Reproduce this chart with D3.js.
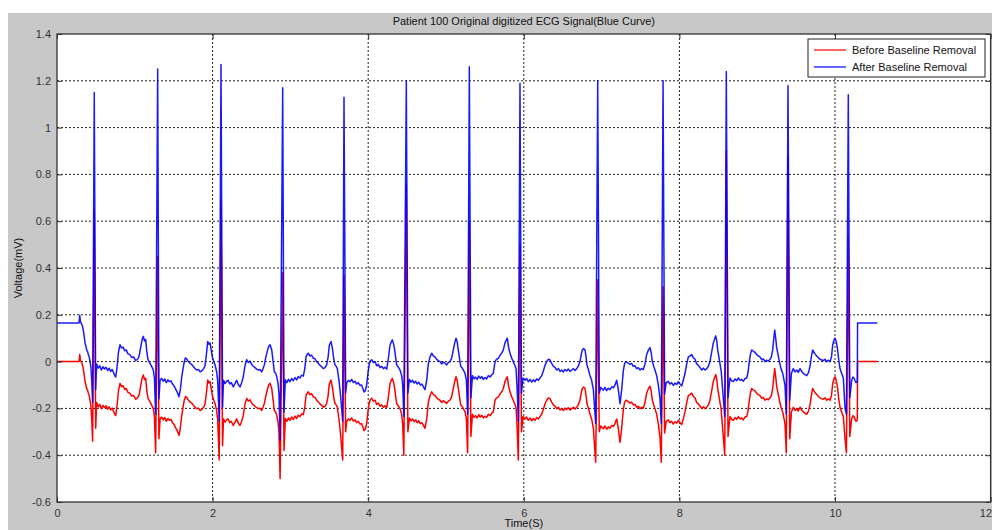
<!DOCTYPE html>
<html>
<head>
<meta charset="utf-8">
<script src="https://cdn.jsdelivr.net/npm/d3@7"></script>
<style>
  body { margin: 0; background: #fff; }
  svg { display: block; }
  text { font-family: Arial, "Liberation Sans", sans-serif; }
</style>
</head>
<body>
<svg id="chart" width="992" height="530"></svg>
<script>
// ECG record 100, one line per beat
const time = [
  0, 0.283, 0.292, 0.302, 0.317, 0.328, 0.338, 0.349, 0.360, 0.370, 0.381, 0.392, 0.403, 0.414, 0.424, 0.436, 0.446, 0.458, 0.479, 0.497,
  0.510, 0.530, 0.550, 0.570, 0.590, 0.610, 0.630, 0.650, 0.670, 0.690, 0.710, 0.730, 0.754, 0.770, 0.790, 0.810, 0.830, 0.850, 0.870, 0.890, 0.910, 0.935, 0.960, 0.985, 1.010, 1.035, 1.055, 1.075, 1.095, 1.110, 1.125, 1.140, 1.155, 1.170, 1.190, 1.210, 1.238, 1.252, 1.268, 1.294, 1.310,
  1.325, 1.345, 1.365, 1.385, 1.405, 1.425, 1.445, 1.465, 1.485, 1.505, 1.525, 1.545, 1.568, 1.585, 1.602, 1.620, 1.636, 1.652, 1.667, 1.685, 1.705, 1.731, 1.755, 1.775, 1.796, 1.820, 1.840, 1.860, 1.885, 1.902, 1.920, 1.937, 1.952, 1.967, 1.982, 1.996, 2.015, 2.031, 2.050, 2.065, 2.085, 2.108, 2.128,
  2.140, 2.160, 2.180, 2.200, 2.220, 2.240, 2.266, 2.288, 2.309, 2.330, 2.352, 2.374, 2.395, 2.415, 2.438, 2.460, 2.481, 2.502, 2.524, 2.545, 2.566, 2.588, 2.610, 2.631, 2.648, 2.665, 2.685, 2.708, 2.722, 2.738, 2.760, 2.778, 2.793, 2.810, 2.824, 2.840, 2.853, 2.868, 2.901, 2.918,
  2.935, 2.955, 2.975, 2.995, 3.015, 3.037, 3.059, 3.080, 3.101, 3.123, 3.145, 3.166, 3.185, 3.201, 3.215, 3.230, 3.250, 3.272, 3.295, 3.316, 3.337, 3.359, 3.380, 3.402, 3.423, 3.445, 3.466, 3.485, 3.500, 3.522, 3.543, 3.558, 3.573, 3.588, 3.603, 3.628, 3.646, 3.672, 3.689, 3.710,
  3.724, 3.745, 3.766, 3.788, 3.810, 3.830, 3.852, 3.873, 3.895, 3.915, 3.932, 3.946, 3.963, 3.980, 3.997, 4.014, 4.030, 4.045, 4.066, 4.088, 4.109, 4.130, 4.152, 4.173, 4.195, 4.216, 4.238, 4.258, 4.280, 4.296, 4.310, 4.323, 4.336, 4.352, 4.366, 4.388, 4.409, 4.430, 4.443, 4.458, 4.490, 4.510,
  4.530, 4.550, 4.570, 4.590, 4.610, 4.630, 4.650, 4.670, 4.690, 4.710, 4.730, 4.752, 4.773, 4.795, 4.816, 4.838, 4.859, 4.880, 4.901, 4.923, 4.945, 4.966, 4.987, 5.008, 5.030, 5.051, 5.072, 5.094, 5.112, 5.129, 5.144, 5.158, 5.174, 5.189, 5.206, 5.223, 5.245, 5.262, 5.278, 5.300, 5.320,
  5.340, 5.360, 5.380, 5.400, 5.420, 5.440, 5.460, 5.480, 5.501, 5.522, 5.544, 5.566, 5.588, 5.608, 5.630, 5.650, 5.672, 5.694, 5.716, 5.737, 5.758, 5.774, 5.788, 5.805, 5.823, 5.845, 5.865, 5.884, 5.900, 5.912, 5.930, 5.951, 5.970,
  5.990, 6.015, 6.035, 6.058, 6.080, 6.101, 6.122, 6.144, 6.165, 6.187, 6.208, 6.230, 6.251, 6.272, 6.294, 6.316, 6.337, 6.358, 6.380, 6.402, 6.423, 6.445, 6.466, 6.487, 6.508, 6.530, 6.551, 6.572, 6.594, 6.616, 6.637, 6.658, 6.680, 6.700, 6.722, 6.738, 6.752, 6.770, 6.787, 6.800, 6.812, 6.832, 6.851, 6.872, 6.894, 6.924, 6.950, 6.970,
  6.988, 7.022, 7.043, 7.065, 7.086, 7.108, 7.130, 7.151, 7.172, 7.194, 7.215, 7.237, 7.258, 7.279, 7.296, 7.314, 7.340, 7.365, 7.386, 7.408, 7.429, 7.450, 7.472, 7.494, 7.515, 7.536, 7.558, 7.579, 7.600, 7.622, 7.637, 7.652, 7.670, 7.686, 7.708, 7.729, 7.751, 7.767, 7.790, 7.810,
  7.830, 7.857, 7.878, 7.900, 7.922, 7.943, 7.965, 7.986, 8.008, 8.029, 8.050, 8.072, 8.094, 8.115, 8.137, 8.158, 8.180, 8.201, 8.222, 8.244, 8.265, 8.287, 8.308, 8.330, 8.351, 8.372, 8.393, 8.415, 8.436, 8.452, 8.467, 8.480, 8.492, 8.508, 8.522, 8.537, 8.551, 8.583, 8.603, 8.625,
  8.650, 8.672, 8.693, 8.715, 8.736, 8.757, 8.779, 8.800, 8.822, 8.843, 8.865, 8.880, 8.895, 8.912, 8.929, 8.950, 8.972, 8.993, 9.015, 9.036, 9.058, 9.079, 9.100, 9.122, 9.143, 9.165, 9.182, 9.199, 9.212, 9.225, 9.238, 9.250, 9.268, 9.285, 9.306, 9.328, 9.357, 9.374, 9.396, 9.418,
  9.440, 9.464, 9.486, 9.507, 9.528, 9.550, 9.572, 9.593, 9.615, 9.636, 9.658, 9.679, 9.696, 9.713, 9.740, 9.765, 9.787, 9.808, 9.829, 9.850, 9.872, 9.893, 9.915, 9.936, 9.955, 9.970, 9.985, 10.000, 10.015, 10.030, 10.047, 10.064, 10.085, 10.107, 10.129, 10.147, 10.171, 10.190, 10.214, 10.230, 10.244, 10.258, 10.270, 10.287, 10.290, 10.544
];

// red curve (mV)
const before = [
  0, 0, 0.030, 0.005, -0.005, -0.015, -0.031, -0.055, -0.085, -0.097, -0.115, -0.121, -0.135, -0.145, -0.163, -0.190, -0.245, -0.340, 0.650, -0.285,
  -0.175, -0.193, -0.183, -0.201, -0.187, -0.197, -0.189, -0.203, -0.193, -0.207, -0.199, -0.215, -0.231, -0.195, -0.125, -0.093, -0.107, -0.103, -0.119, -0.115, -0.131, -0.135, -0.147, -0.145, -0.161, -0.155, -0.143, -0.105, -0.070, -0.057, -0.077, -0.071, -0.125, -0.157, -0.169, -0.181, -0.201, -0.235, -0.390, 0.450, -0.330,
  -0.245, -0.237, -0.249, -0.239, -0.255, -0.243, -0.251, -0.247, -0.261, -0.269, -0.283, -0.295, -0.315, -0.285, -0.235, -0.195, -0.165, -0.149, -0.153, -0.163, -0.171, -0.177, -0.187, -0.195, -0.201, -0.199, -0.209, -0.205, -0.195, -0.183, -0.135, -0.079, -0.091, -0.085, -0.115, -0.145, -0.165, -0.179, -0.205, -0.245, -0.420, 0.690, -0.360,
  -0.245, -0.259, -0.249, -0.245, -0.261, -0.255, -0.273, -0.259, -0.245, -0.263, -0.273, -0.255, -0.229, -0.185, -0.157, -0.169, -0.163, -0.177, -0.185, -0.191, -0.197, -0.201, -0.199, -0.209, -0.195, -0.179, -0.145, -0.115, -0.099, -0.093, -0.115, -0.165, -0.208, -0.215, -0.229, -0.255, -0.301, -0.500, 0.380, -0.380,
  -0.243, -0.255, -0.241, -0.251, -0.237, -0.247, -0.233, -0.243, -0.229, -0.235, -0.223, -0.227, -0.195, -0.145, -0.135, -0.129, -0.141, -0.137, -0.151, -0.153, -0.165, -0.172, -0.181, -0.187, -0.195, -0.191, -0.179, -0.145, -0.095, -0.079, -0.115, -0.155, -0.179, -0.185, -0.195, -0.255, -0.315, -0.420, 0.370, -0.300,
  -0.255, -0.245, -0.251, -0.241, -0.255, -0.249, -0.261, -0.255, -0.267, -0.265, -0.281, -0.295, -0.289, -0.265, -0.215, -0.175, -0.161, -0.157, -0.169, -0.165, -0.183, -0.177, -0.191, -0.185, -0.195, -0.189, -0.197, -0.155, -0.095, -0.081, -0.072, -0.085, -0.105, -0.145, -0.179, -0.189, -0.201, -0.225, -0.265, -0.400, 0.760, -0.300,
  -0.241, -0.253, -0.245, -0.257, -0.249, -0.261, -0.253, -0.265, -0.261, -0.273, -0.285, -0.245, -0.175, -0.145, -0.129, -0.141, -0.145, -0.155, -0.161, -0.165, -0.175, -0.167, -0.172, -0.179, -0.169, -0.165, -0.151, -0.115, -0.085, -0.065, -0.081, -0.115, -0.151, -0.185, -0.191, -0.201, -0.215, -0.245, -0.390, 0.600, -0.320,
  -0.225, -0.239, -0.231, -0.241, -0.227, -0.237, -0.229, -0.241, -0.233, -0.239, -0.225, -0.231, -0.221, -0.215, -0.165, -0.155, -0.151, -0.139, -0.129, -0.115, -0.085, -0.073, -0.065, -0.105, -0.129, -0.151, -0.165, -0.181, -0.195, -0.265, -0.420, 0.500, -0.300,
  -0.235, -0.245, -0.237, -0.251, -0.241, -0.253, -0.243, -0.251, -0.239, -0.245, -0.235, -0.225, -0.205, -0.181, -0.165, -0.155, -0.158, -0.173, -0.185, -0.191, -0.201, -0.195, -0.207, -0.201, -0.209, -0.199, -0.205, -0.197, -0.207, -0.201, -0.195, -0.203, -0.195, -0.185, -0.165, -0.135, -0.115, -0.109, -0.115, -0.145, -0.179, -0.201, -0.225, -0.245, -0.285, -0.430, 0.350, -0.300,
  -0.275, -0.287, -0.275, -0.289, -0.279, -0.285, -0.273, -0.277, -0.265, -0.245, -0.285, -0.345, -0.285, -0.205, -0.173, -0.165, -0.171, -0.177, -0.173, -0.185, -0.183, -0.195, -0.191, -0.201, -0.195, -0.199, -0.175, -0.135, -0.117, -0.105, -0.125, -0.165, -0.185, -0.201, -0.225, -0.265, -0.325, -0.430, 0.320, -0.305,
  -0.255, -0.249, -0.261, -0.255, -0.267, -0.257, -0.263, -0.251, -0.261, -0.269, -0.245, -0.215, -0.175, -0.145, -0.141, -0.135, -0.149, -0.155, -0.175, -0.181, -0.191, -0.201, -0.193, -0.201, -0.195, -0.185, -0.165, -0.125, -0.085, -0.069, -0.055, -0.075, -0.115, -0.145, -0.175, -0.205, -0.265, -0.400, 0.900, -0.320,
  -0.235, -0.247, -0.251, -0.239, -0.247, -0.235, -0.245, -0.241, -0.249, -0.237, -0.235, -0.215, -0.175, -0.135, -0.115, -0.121, -0.125, -0.135, -0.141, -0.145, -0.157, -0.153, -0.165, -0.159, -0.163, -0.155, -0.145, -0.115, -0.070, -0.030, -0.065, -0.105, -0.135, -0.165, -0.195, -0.215, -0.265, -0.390, 0.880, -0.330,
  -0.215, -0.195, -0.209, -0.201, -0.211, -0.195, -0.207, -0.215, -0.221, -0.225, -0.213, -0.185, -0.145, -0.115, -0.131, -0.141, -0.149, -0.155, -0.158, -0.161, -0.155, -0.165, -0.159, -0.165, -0.145, -0.095, -0.075, -0.065, -0.079, -0.105, -0.155, -0.195, -0.215, -0.235, -0.330, -0.390, 0.530, -0.320, -0.245, -0.231, -0.235, -0.247, -0.255, -0.251, 0, 0
];

// blue curve (mV)
const after = [
  0.165, 0.165, 0.198, 0.170, 0.160, 0.150, 0.134, 0.110, 0.080, 0.068, 0.050, 0.044, 0.030, 0.020, 0.002, -0.025, -0.080, -0.175, 1.150, -0.120,
  -0.010, -0.028, -0.018, -0.036, -0.022, -0.032, -0.024, -0.038, -0.028, -0.042, -0.034, -0.050, -0.066, -0.030, 0.040, 0.072, 0.058, 0.062, 0.046, 0.050, 0.034, 0.030, 0.018, 0.020, 0.004, 0.010, 0.022, 0.060, 0.095, 0.108, 0.088, 0.094, 0.040, 0.008, -0.004, -0.016, -0.036, -0.070, -0.225, 1.250, -0.160,
  -0.080, -0.072, -0.084, -0.074, -0.090, -0.078, -0.086, -0.082, -0.096, -0.104, -0.118, -0.130, -0.150, -0.120, -0.070, -0.030, 0.000, 0.016, 0.012, 0.002, -0.006, -0.012, -0.022, -0.030, -0.036, -0.034, -0.044, -0.040, -0.030, -0.018, 0.030, 0.086, 0.074, 0.080, 0.050, 0.020, 0.000, -0.014, -0.040, -0.080, -0.255, 1.270, -0.195,
  -0.080, -0.094, -0.084, -0.080, -0.096, -0.090, -0.108, -0.094, -0.080, -0.098, -0.108, -0.090, -0.064, -0.020, 0.008, -0.004, 0.002, -0.012, -0.020, -0.026, -0.032, -0.036, -0.034, -0.044, -0.030, -0.014, 0.020, 0.050, 0.066, 0.072, 0.050, 0.000, -0.043, -0.050, -0.064, -0.090, -0.136, -0.335, 1.170, -0.215,
  -0.078, -0.090, -0.076, -0.086, -0.072, -0.082, -0.068, -0.078, -0.064, -0.070, -0.058, -0.062, -0.030, 0.020, 0.030, 0.036, 0.024, 0.028, 0.014, 0.012, 0.000, -0.007, -0.016, -0.022, -0.030, -0.026, -0.014, 0.020, 0.070, 0.086, 0.050, 0.010, -0.014, -0.020, -0.030, -0.090, -0.150, -0.255, 1.130, -0.135,
  -0.090, -0.080, -0.086, -0.076, -0.090, -0.084, -0.096, -0.090, -0.102, -0.100, -0.116, -0.130, -0.124, -0.100, -0.050, -0.010, 0.004, 0.008, -0.004, 0.000, -0.018, -0.012, -0.026, -0.020, -0.030, -0.024, -0.032, 0.010, 0.070, 0.084, 0.093, 0.080, 0.060, 0.020, -0.014, -0.024, -0.036, -0.060, -0.100, -0.235, 1.200, -0.135,
  -0.076, -0.088, -0.080, -0.092, -0.084, -0.096, -0.088, -0.100, -0.096, -0.108, -0.120, -0.080, -0.010, 0.020, 0.036, 0.024, 0.020, 0.010, 0.004, 0.000, -0.010, -0.002, -0.007, -0.014, -0.004, 0.000, 0.014, 0.050, 0.080, 0.100, 0.084, 0.050, 0.014, -0.020, -0.026, -0.036, -0.050, -0.080, -0.225, 1.260, -0.155,
  -0.060, -0.074, -0.066, -0.076, -0.062, -0.072, -0.064, -0.076, -0.068, -0.074, -0.060, -0.066, -0.056, -0.050, 0.000, 0.010, 0.014, 0.026, 0.036, 0.050, 0.080, 0.092, 0.100, 0.060, 0.036, 0.014, 0.000, -0.016, -0.030, -0.100, -0.255, 1.190, -0.135,
  -0.070, -0.080, -0.072, -0.086, -0.076, -0.088, -0.078, -0.086, -0.074, -0.080, -0.070, -0.060, -0.040, -0.016, 0.000, 0.010, 0.007, -0.008, -0.020, -0.026, -0.036, -0.030, -0.042, -0.036, -0.044, -0.034, -0.040, -0.032, -0.042, -0.036, -0.030, -0.038, -0.030, -0.020, 0.000, 0.030, 0.050, 0.056, 0.050, 0.020, -0.014, -0.036, -0.060, -0.080, -0.120, -0.265, 1.200, -0.135,
  -0.110, -0.122, -0.110, -0.124, -0.114, -0.120, -0.108, -0.112, -0.100, -0.080, -0.120, -0.180, -0.120, -0.040, -0.008, 0.000, -0.006, -0.012, -0.008, -0.020, -0.018, -0.030, -0.026, -0.036, -0.030, -0.034, -0.010, 0.030, 0.048, 0.060, 0.040, 0.000, -0.020, -0.036, -0.060, -0.100, -0.160, -0.265, 1.200, -0.140,
  -0.090, -0.084, -0.096, -0.090, -0.102, -0.092, -0.098, -0.086, -0.096, -0.104, -0.080, -0.050, -0.010, 0.020, 0.024, 0.030, 0.016, 0.010, -0.010, -0.016, -0.026, -0.036, -0.028, -0.036, -0.030, -0.020, 0.000, 0.040, 0.080, 0.096, 0.110, 0.090, 0.050, 0.020, -0.010, -0.040, -0.100, -0.235, 1.240, -0.155,
  -0.070, -0.082, -0.086, -0.074, -0.082, -0.070, -0.080, -0.076, -0.084, -0.072, -0.070, -0.050, -0.010, 0.030, 0.050, 0.044, 0.040, 0.030, 0.024, 0.020, 0.008, 0.012, 0.000, 0.006, 0.002, 0.010, 0.020, 0.050, 0.095, 0.135, 0.100, 0.060, 0.030, 0.000, -0.030, -0.050, -0.100, -0.225, 1.180, -0.165,
  -0.050, -0.030, -0.044, -0.036, -0.046, -0.030, -0.042, -0.050, -0.056, -0.060, -0.048, -0.020, 0.020, 0.050, 0.034, 0.024, 0.016, 0.010, 0.007, 0.004, 0.010, 0.000, 0.006, 0.000, 0.020, 0.070, 0.090, 0.100, 0.086, 0.060, 0.010, -0.030, -0.050, -0.070, -0.200, -0.225, 1.140, -0.155, -0.080, -0.066, -0.070, -0.082, -0.090, -0.086, 0.165, 0.165
];

const xTicks = [0, 2, 4, 6, 8, 10, 12];
const yTicks = [-0.6, -0.4, -0.2, 0, 0.2, 0.4, 0.6, 0.8, 1, 1.2, 1.4];
const yTickLabels = ['-0.6', '-0.4', '-0.2', '0', '0.2', '0.4', '0.6', '0.8', '1', '1.2', '1.4'];
const seriesNames = ['Before Baseline Removal', 'After Baseline Removal'];

const colors = ['#ff0000', '#0000ff'];

if (time.length !== before.length || time.length !== after.length) {
  throw new Error('length mismatch ' + time.length + ' ' + before.length + ' ' + after.length);
}

let svg = d3.select('#chart');

// matlab figure background
svg.append('rect')
    .attr('x', 8).attr('y', 13)
    .attr('width', 984).attr('height', 517)
    .attr('fill', '#c8c8c8');

let margin = {left: 57, top: 34, right: 1.4, bottom: 28};
let width = 992 - margin.left - margin.right;
let height = 530 - margin.top - margin.bottom;

let g = svg.append('g').attr('transform', `translate(${margin.left},${margin.top})`);

let x = d3.scaleLinear().domain([0, 12]).range([0, width]);
let y = d3.scaleLinear().domain([-0.6, 1.4]).range([height, 0]);

g.append('rect')
    .attr('width', width).attr('height', height)
    .attr('fill', '#fff');

// dotted grid
let grid = g.append('g')
    .attr('stroke', '#222')
    .attr('stroke-width', 1)
    .attr('stroke-dasharray', '2,2');
grid.selectAll('line.gx')
    .data(xTicks.slice(1, -1))
    .join('line')
    .attr('class', 'gx')
    .attr('x1', d => x(d)).attr('x2', d => x(d))
    .attr('y1', 0).attr('y2', height);
grid.selectAll('line.gy')
    .data(yTicks.slice(1, -1))
    .join('line')
    .attr('class', 'gy')
    .attr('x1', 0).attr('x2', width)
    .attr('y1', d => y(d)).attr('y2', d => y(d));

svg.append('clipPath').attr('id', 'clip')
  .append('rect')
    .attr('width', width).attr('height', height);

let idx = d3.range(time.length);

[before, after].forEach(function(vals, s) {
  let path = d3.line()
      .x(i => x(time[i]))
      .y(i => y(vals[i]));
  g.append('path')
      .attr('clip-path', 'url(#clip)')
      .attr('d', path(idx))
      .attr('fill', 'none')
      .attr('stroke', colors[s])
      .attr('stroke-width', 1.5)
      .attr('stroke-opacity', s === 1 ? 0.9 : 1)
      .attr('stroke-linejoin', 'round');
});

// axes, ticks point inward like matlab
let tickFont = function(sel) {
  sel.selectAll('text')
      .attr('fill', '#333')
      .style('font-size', '11px');
  sel.selectAll('line').attr('stroke', '#333');
  sel.select('.domain').remove();
};

let xAxis = g.append('g')
    .attr('transform', `translate(0,${height})`)
    .call(d3.axisBottom(x).tickValues(xTicks).tickFormat(d3.format('d'))
        .tickSizeInner(-5).tickSizeOuter(0).tickPadding(7))
    .call(tickFont);
// last label sits on the window edge, keep it inside
xAxis.selectAll('text').filter(d => d === 12)
    .attr('text-anchor', 'end')
    .attr('dx', 1);

g.append('g')
    .call(d3.axisTop(x).tickValues(xTicks).tickFormat('')
        .tickSizeInner(-5).tickSizeOuter(0))
    .call(tickFont);
g.append('g')
    .call(d3.axisLeft(y).tickValues(yTicks).tickFormat((d, i) => yTickLabels[i])
        .tickSizeInner(-5).tickSizeOuter(0).tickPadding(6))
    .call(tickFont);
g.append('g')
    .attr('transform', `translate(${width},0)`)
    .call(d3.axisRight(y).tickValues(yTicks).tickFormat('')
        .tickSizeInner(-5).tickSizeOuter(0))
    .call(tickFont);

g.append('rect')
    .attr('width', width).attr('height', height)
    .attr('fill', 'none')
    .attr('stroke', '#333')
    .attr('stroke-width', 1.3);

// titles
svg.append('text')
    .attr('x', margin.left + width / 2).attr('y', 25)
    .attr('text-anchor', 'middle')
    .style('font-size', '11px')
    .attr('fill', '#111')
    .text('Patient 100 Original digitized ECG Signal(Blue Curve)');

svg.append('text')
    .attr('x', margin.left + width / 2).attr('y', 527)
    .attr('text-anchor', 'middle')
    .style('font-size', '11px')
    .attr('fill', '#111')
    .text('Time(S)');

svg.append('text')
    .attr('transform', 'translate(22,268) rotate(-90)')
    .attr('text-anchor', 'middle')
    .style('font-size', '11px')
    .attr('fill', '#111')
    .text('Voltage(mV)');

// legend
let lg = svg.append('g').attr('transform', 'translate(808,39)');
lg.append('rect')
    .attr('width', 177).attr('height', 38)
    .attr('fill', '#fff')
    .attr('stroke', '#222')
    .attr('stroke-width', 1);
seriesNames.forEach(function(name, i) {
  let yy = 11 + i * 17;
  lg.append('line')
      .attr('x1', 6).attr('x2', 38)
      .attr('y1', yy).attr('y2', yy)
      .attr('stroke', colors[i])
      .attr('stroke-width', 1.2);
  lg.append('text')
      .attr('x', 44).attr('y', yy + 4)
      .style('font-size', '11px')
      .attr('fill', '#111')
      .text(name);
});
</script>
</body>
</html>
